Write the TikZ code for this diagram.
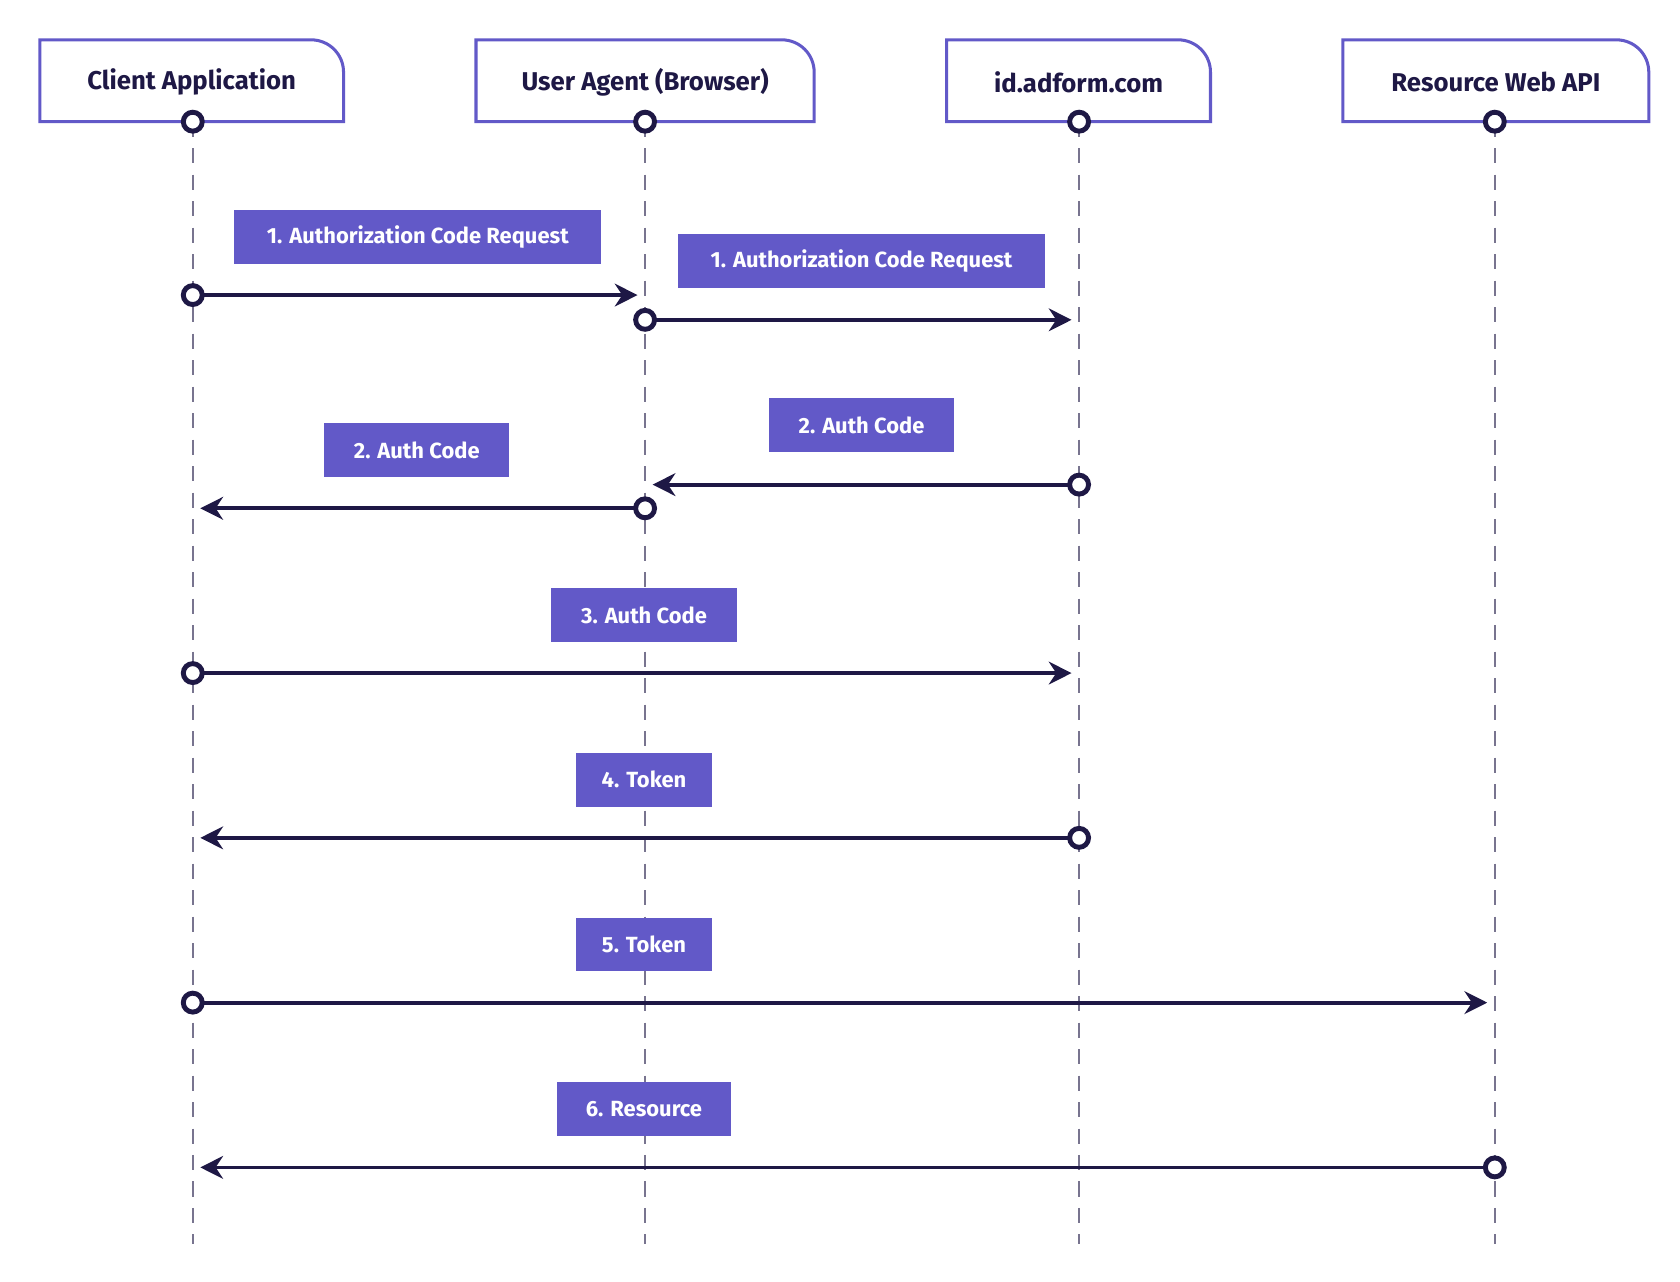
\documentclass[tikz,border=0pt]{standalone}
\usepackage{fontspec}
\setmainfont{Fira Sans}
\usetikzlibrary{arrows.meta,positioning}
\definecolor{violet}{HTML}{6259C8}
\definecolor{ink}{HTML}{1E1845}
\tikzset{
  msg/.style={fill=violet,text=white,minimum height=0.5cm,font=\fontsize{5.8}{7}\selectfont\bfseries},
  life/.style={draw=ink!60,dashed,dash pattern=on 4pt off 3pt,line width=0.6pt},
  call/.style={draw=ink,line width=1pt,-{Stealth[length=6pt,width=6pt]}},
  dot/.style={circle,draw=ink,fill=white,line width=1.3pt,inner sep=0pt,minimum size=5pt}
}
\newcommand{\lane}[4]{% name, left, right, text
  \draw[violet,line width=0.8pt,fill=white] (#2,-0.37) -- (#3-0.3,-0.37) arc (90:0:0.3) -- (#3,-1.13) -- (#2,-1.13) -- cycle;
  \node[font=\fontsize{6.8}{8}\selectfont\bfseries\color{ink}] (#1) at ({(#2+#3)/2},-0.76) {#4};}
\begin{document}
\begin{tikzpicture}
\useasboundingbox (0,0) rectangle (15.6,-11.9);
% lifelines
\foreach \x in {1.79,5.99,10.02,13.88}
  \draw[life] (\x,-1.13) -- (\x,-11.55);
\lane{client}{0.37}{3.19}{Client Application}
\lane{agent}{4.42}{7.56}{User Agent (Browser)}
\lane{idp}{8.79}{11.24}{id.adform.com}
\lane{api}{12.47}{15.31}{Resource Web API}
\foreach \x in {1.79,5.99,10.02,13.88}
  \node[dot] at (\x,-1.13) {};
% messages
\node[msg,minimum width=3.41cm] (m1a) at (3.88,-2.20) {1. Authorization Code Request};
\node[msg,minimum width=3.41cm] (m1b) at (8.00,-2.42) {1. Authorization Code Request};
\node[msg,minimum width=1.72cm] (m2a) at (8.00,-3.95) {2. Auth Code};
\node[msg,minimum width=1.72cm] (m2b) at (3.87,-4.18) {2. Auth Code};
\node[msg,minimum width=1.72cm] (m3) at (5.98,-5.71) {3. Auth Code};
\node[msg,minimum width=1.27cm] (m4) at (5.98,-7.24) {4. Token};
\node[msg,minimum width=1.27cm] (m5) at (5.98,-8.77) {5. Token};
\node[msg,minimum width=1.61cm] (m6) at (5.98,-10.30) {6. Resource};
% end points
\coordinate (c1) at (1.79,-2.74);  \coordinate (a1) at (5.92,-2.74);
\coordinate (a2) at (5.99,-2.97);  \coordinate (i2) at (9.95,-2.97);
\coordinate (i3) at (10.02,-4.50); \coordinate (a3) at (6.06,-4.50);
\coordinate (a4) at (5.99,-4.72);  \coordinate (c4) at (1.86,-4.72);
\coordinate (c5) at (1.79,-6.25);  \coordinate (i5) at (9.95,-6.25);
\coordinate (i6) at (10.02,-7.78); \coordinate (c6) at (1.86,-7.78);
\coordinate (c7) at (1.79,-9.31);  \coordinate (r7) at (13.81,-9.31);
\coordinate (r8) at (13.88,-10.84);\coordinate (c8) at (1.86,-10.84);
\foreach \s/\t in {c1/a1,a2/i2,i3/a3,a4/c4,c5/i5,i6/c6,c7/r7,r8/c8}{
  \draw[call] (\s) -- (\t);
  \node[dot] at (\s) {};}
\end{tikzpicture}
\end{document}
